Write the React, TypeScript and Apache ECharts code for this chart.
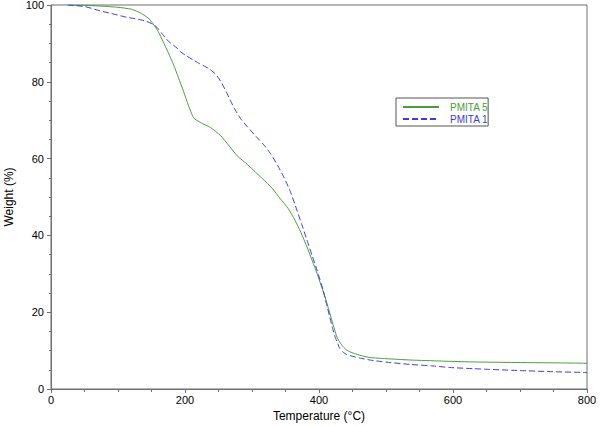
import React, { useEffect, useRef } from "react";
import * as echarts from "echarts";

const seriesNames = ["PMITA 5", "PMITA 1"];

const pmita5Temp = [25, 50, 75, 100, 120, 135, 145, 152, 160, 167, 175, 183, 190, 198, 205, 213, 223, 238, 253, 266, 278, 293, 305, 316, 330, 342, 354, 364, 373, 382, 390, 397, 403, 409, 414, 419, 423, 427, 431, 436, 441, 446, 455, 465, 476, 500, 536, 570, 595, 630, 670, 720, 760, 800];
const pmita5Weight = [100, 99.9, 99.7, 99.4, 98.9, 97.8, 96.6, 95.2, 93.1, 90.6, 87.6, 84.4, 81.2, 77.4, 73.9, 70.6, 69.4, 68.1, 66.0, 63.3, 60.7, 58.5, 56.5, 54.7, 52.3, 49.6, 47.0, 44.0, 40.8, 37.0, 33.4, 30.1, 27.1, 24.0, 21.0, 18.0, 15.6, 13.4, 12.2, 11.0, 10.2, 9.7, 9.1, 8.6, 8.2, 7.9, 7.55, 7.35, 7.2, 7.05, 6.95, 6.85, 6.8, 6.7];

const pmita1Temp = [25, 50, 73, 90, 113, 130, 143, 152, 158, 165, 175, 188, 192, 200, 213, 222, 235, 245, 253, 261, 267, 273, 283, 293, 308, 318, 328, 338, 348, 357, 367, 374, 382, 390, 397, 406, 411, 416, 420, 424, 428, 431, 436, 441, 446, 460, 476, 500, 536, 570, 595, 630, 655, 700, 750, 800];
const pmita1Weight = [100, 99.6, 98.5, 97.8, 96.8, 96.3, 95.7, 95.0, 94.2, 92.7, 90.6, 88.8, 88.0, 87.0, 85.6, 84.7, 83.5, 82.1, 80.2, 77.6, 75.4, 73.3, 70.4, 68.3, 65.4, 63.5, 61.2, 58.3, 55.0, 51.5, 46.6, 43.0, 38.8, 34.6, 31.0, 25.8, 22.3, 18.8, 16.0, 13.6, 11.8, 10.6, 9.6, 9.0, 8.7, 8.1, 7.55, 7.0, 6.4, 6.0, 5.6, 5.3, 5.1, 4.8, 4.5, 4.3];

const xTicks = [0, 200, 400, 600, 800];
const yTicks = [0, 20, 40, 60, 80, 100];

const GREEN = "#4a9d3b";
const BLUE = "#3b3be0";
const AXIS = "#6e6e6e";
const FONT = "Liberation Sans";

export default function App() {
  const ref = useRef<HTMLDivElement>(null);
  useEffect(() => {
    if (!ref.current) return;
    const chart = echarts.init(ref.current, undefined, { renderer: "svg" });
    const d5 = pmita5Temp.map((t, i) => [t, pmita5Weight[i]]);
    const d1 = pmita1Temp.map((t, i) => [t, pmita1Weight[i]]);
    chart.setOption({
      animation: false,
      backgroundColor: "#ffffff",
      textStyle: { fontFamily: FONT },
      grid: {
        left: 51,
        right: 13,
        top: 5,
        bottom: 37,
        outerBoundsMode: "none",
        containLabel: false,
        show: true,
        borderColor: AXIS,
        borderWidth: 1,
        backgroundColor: "transparent",
      },
      legend: {
        orient: "vertical",
        left: 396,
        top: 98,
        padding: [4, 0, 2, 6],
        itemWidth: 36,
        itemHeight: 10,
        itemGap: 2,
        borderColor: "#555",
        borderWidth: 1,
        backgroundColor: "#fff",
        itemStyle: { opacity: 0, color: "transparent", borderWidth: 0 },
        textStyle: { fontFamily: FONT, fontSize: 10, padding: [0, 0, 0, 6] },
        data: [
          { name: seriesNames[0], textStyle: { color: GREEN } },
          { name: seriesNames[1], textStyle: { color: BLUE } },
        ],
      },
      xAxis: {
        type: "value",
        min: xTicks[0],
        max: xTicks[xTicks.length - 1],
        interval: xTicks[1] - xTicks[0],
        name: "Temperature (°C)",
        nameLocation: "middle",
        nameGap: 17,
        nameTextStyle: { fontFamily: FONT, fontSize: 12, color: "#000" },
        axisLine: { show: true, lineStyle: { color: AXIS, width: 1 } },
        axisTick: { show: true, length: 4, lineStyle: { color: AXIS } },
        minorTick: { show: true, splitNumber: 4, length: 3, lineStyle: { color: AXIS } },
        axisLabel: { fontFamily: FONT, fontSize: 11, color: "#000", margin: 5 },
        splitLine: { show: false },
        minorSplitLine: { show: false },
      },
      yAxis: {
        type: "value",
        min: yTicks[0],
        max: yTicks[yTicks.length - 1],
        interval: yTicks[1] - yTicks[0],
        name: "Weight (%)",
        nameLocation: "middle",
        nameGap: 33,
        nameTextStyle: { fontFamily: FONT, fontSize: 12, color: "#000" },
        axisLine: { show: true, lineStyle: { color: AXIS, width: 1 } },
        axisTick: { show: true, length: 4, lineStyle: { color: AXIS } },
        minorTick: { show: true, splitNumber: 4, length: 2, lineStyle: { color: AXIS } },
        axisLabel: { fontFamily: FONT, fontSize: 11, color: "#000", margin: 7 },
        splitLine: { show: false },
        minorSplitLine: { show: false },
      },
      series: [
        {
          name: seriesNames[0],
          type: "line",
          data: d5,
          symbol: "none",
          smooth: 0.2,
          color: GREEN,
          lineStyle: { color: GREEN, width: 1 },
        },
        {
          name: seriesNames[1],
          type: "line",
          data: d1,
          symbol: "none",
          smooth: 0.2,
          color: BLUE,
          lineStyle: { color: BLUE, width: 1, type: [6, 3] },
        },
      ],
    });
    return () => chart.dispose();
  }, []);
  return <div ref={ref} style={{ width: 600, height: 426, position: "absolute", left: 0, top: 0 }} />;
}
